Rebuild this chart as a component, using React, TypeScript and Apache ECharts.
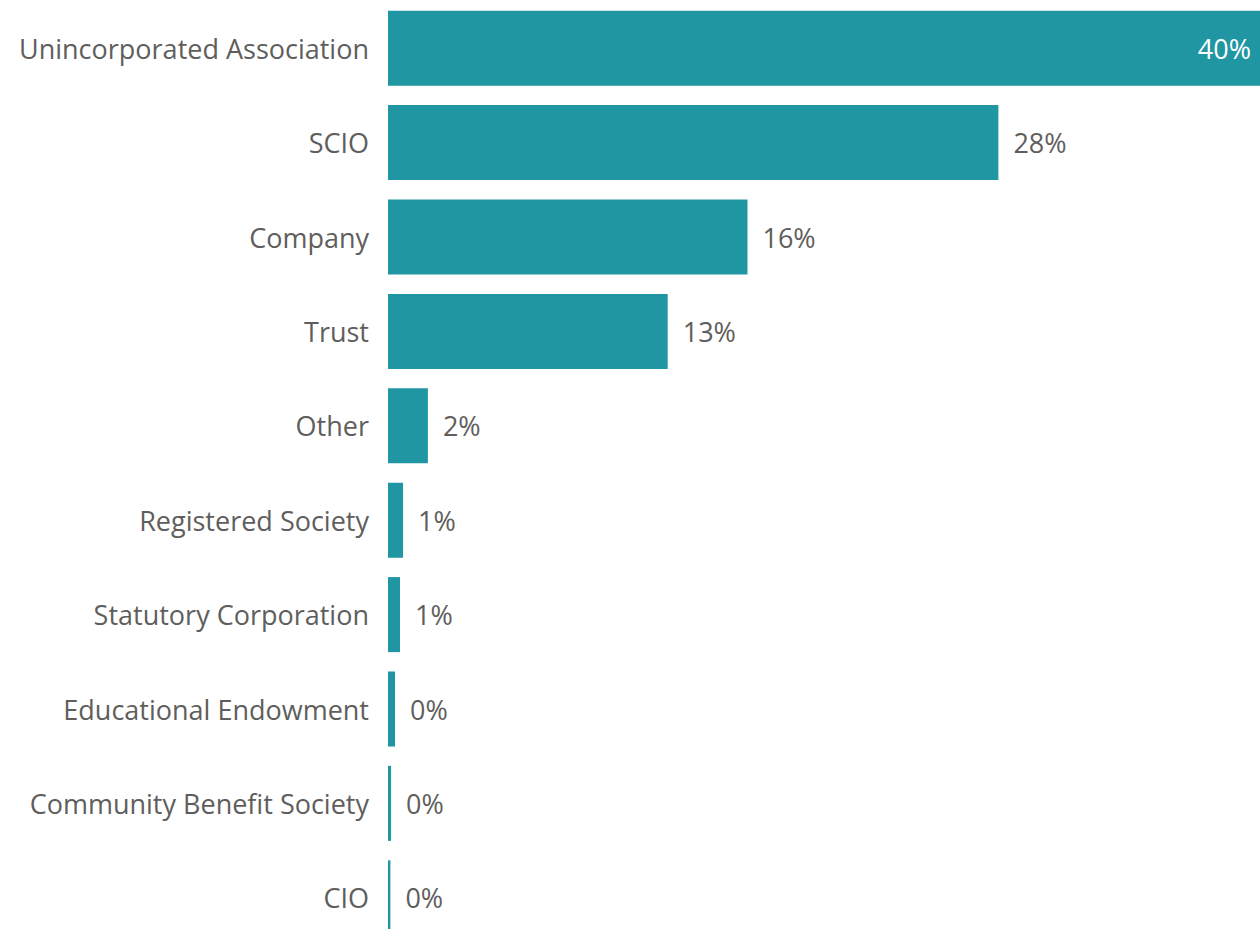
import React, { useEffect, useRef } from "react";
import * as echarts from "echarts";

const categories = [
  "Unincorporated Association",
  "SCIO",
  "Company",
  "Trust",
  "Other",
  "Registered Society",
  "Statutory Corporation",
  "Educational Endowment",
  "Community Benefit Society",
  "CIO",
];
const shares = [40.0, 28.0, 16.49, 12.83, 1.83, 0.69, 0.55, 0.32, 0.14, 0.11];

const FONT = "'Segoe UI', 'Open Sans', 'Noto Sans', sans-serif";
const TEXT = "#605E5C";
const BAR = "#2196A3";

export default function App() {
  const ref = useRef<HTMLDivElement>(null);
  useEffect(() => {
    if (!ref.current) return;
    const chart = echarts.init(ref.current, null, { renderer: "svg" });
    const maxVal = Math.max(...shares);
    chart.setOption({
      animation: false,
      grid: { left: 388, right: 0, top: 1, bottom: 1, containLabel: false },
      xAxis: {
        type: "value",
        min: 0,
        max: maxVal,
        show: false,
      },
      yAxis: {
        type: "category",
        data: categories,
        inverse: true,
        axisLine: { show: false },
        axisTick: { show: false },
        splitLine: { show: false },
        axisLabel: {
          color: TEXT,
          fontFamily: FONT,
          fontSize: 27,
          margin: 19,
        },
      },
      series: [
        {
          type: "bar",
          data: shares.map((v, i) => ({
            value: v,
            label:
              i === 0
                ? { position: "insideRight", color: "#ffffff", distance: 9 }
                : { position: "right", color: TEXT, distance: 15 },
          })),
          barCategoryGap: "20.5%",
          itemStyle: { color: BAR },
          label: {
            show: true,
            fontFamily: FONT,
            fontSize: 27,
            formatter: (p: any) => Math.round(p.value) + "%",
          },
        },
      ],
    });
    return () => chart.dispose();
  }, []);
  return (
    <div
      style={{
        position: "fixed",
        left: 0,
        top: 0,
        width: 1260,
        height: 929,
        overflow: "hidden",
        background: "#ffffff",
      }}
    >
      <div ref={ref} style={{ width: 1260, height: 946 }} />
    </div>
  );
}
